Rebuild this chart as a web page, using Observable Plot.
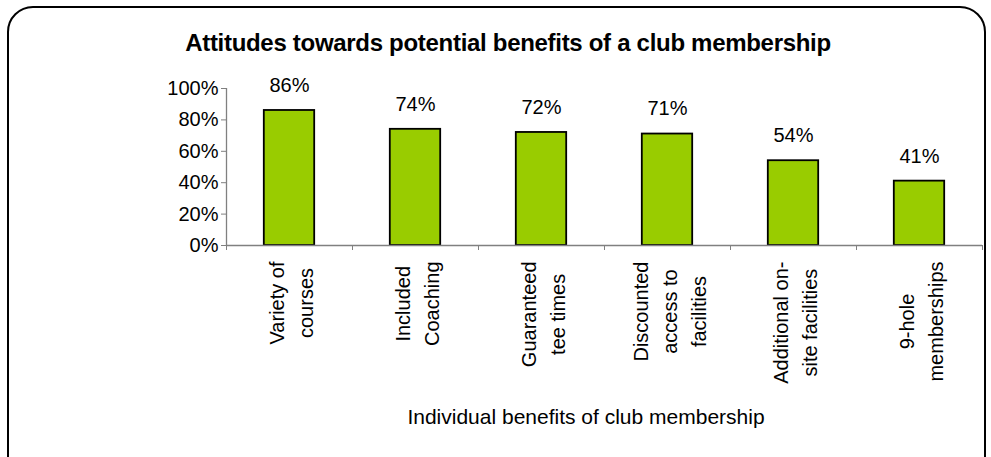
<!DOCTYPE html>
<html><head><meta charset="utf-8">
<script src="https://cdn.jsdelivr.net/npm/d3@7"></script>
<script src="https://cdn.jsdelivr.net/npm/@observablehq/plot@0.6"></script>
<style>
body{margin:0;background:#fff;font-family:"Liberation Sans",Arial,sans-serif;}
#wrap{position:relative;width:991px;height:457px;overflow:hidden;background:#fff;}
#frame{position:absolute;left:7px;top:6px;width:979px;height:520px;box-sizing:border-box;border:2px solid #000;border-radius:26px;}
#title{position:absolute;top:30px;left:508px;transform:translateX(-50%);white-space:nowrap;font-weight:bold;font-size:24px;line-height:26px;letter-spacing:-0.3px;color:#000;}
#chart{position:absolute;top:60px;left:0;}
#xlabel{position:absolute;top:405px;left:586px;transform:translateX(-50%);white-space:nowrap;font-size:21px;line-height:24px;color:#000;}
</style></head>
<body>
<div id="wrap">
  <div id="frame"></div>
  <div id="title">Attitudes towards potential benefits of a club membership</div>
  <div id="chart"></div>
  <div id="xlabel">Individual benefits of club membership</div>
</div>
<script>
const categories = ["Variety of\ncourses", "Included\nCoaching", "Guaranteed\ntee times", "Discounted\naccess to\nfacilities", "Additional on-\nsite facilities", "9-hole\nmemberships"];
const values = [0.86, 0.74, 0.72, 0.71, 0.54, 0.41];
const yTicks = [0, 0.2, 0.4, 0.6, 0.8, 1];

const pct = d3.format(".0%");
const data = categories.map((c, i) => ({i, category: c, value: values[i], label: pct(values[i])}));

const ctx = document.createElement("canvas").getContext("2d");
ctx.font = '20px "Liberation Sans", Arial, sans-serif';
const maxLine = s => d3.max(s.split("\n"), l => ctx.measureText(l).width);

const labelMarks = data.map(d => Plot.text([d], {
  x: e => e.i + 0.5, y: () => 0, text: "category",
  rotate: -90, textAnchor: "middle", lineAnchor: "middle", lineHeight: 1.45,
  dy: 16 + maxLine(d.category) / 2, fontSize: 20, fill: "black"
}));

const chart = Plot.plot({
  width: 991, height: 330,
  marginLeft: 226, marginRight: 9, marginTop: 28, marginBottom: 145,
  x: {domain: [0, categories.length], axis: null},
  y: {domain: [0, 1], axis: null},
  style: {fontFamily: '"Liberation Sans", Arial, sans-serif', fontSize: "20px", overflow: "visible", background: "transparent", color: "black"},
  marks: [
    Plot.rect(data, {x1: d => d.i + 0.3, x2: d => d.i + 0.7, y1: () => 0, y2: "value", fill: "#99CC00", stroke: "black", strokeWidth: 1.8}),
    Plot.ruleY([0], {stroke: "#808080", strokeWidth: 1.3}),
    Plot.ruleX([0], {y1: 0, y2: 1, stroke: "#808080", strokeWidth: 1.3}),
    Plot.axisY({ticks: yTicks, tickFormat: pct, tickSize: 5, tickPadding: 3, stroke: "#808080", fill: "black", fontSize: 20, label: null}),
    Plot.axisX({ticks: d3.range(0, categories.length + 1), tickFormat: () => "", tickSize: 5, stroke: "#808080", label: null}),
    Plot.text(data, {x: d => d.i + 0.5, y: "value", text: "label", dy: -25, fontSize: 20, fill: "black"}),
    ...labelMarks
  ]
});
document.getElementById("chart").appendChild(chart);
</script>
</body></html>
